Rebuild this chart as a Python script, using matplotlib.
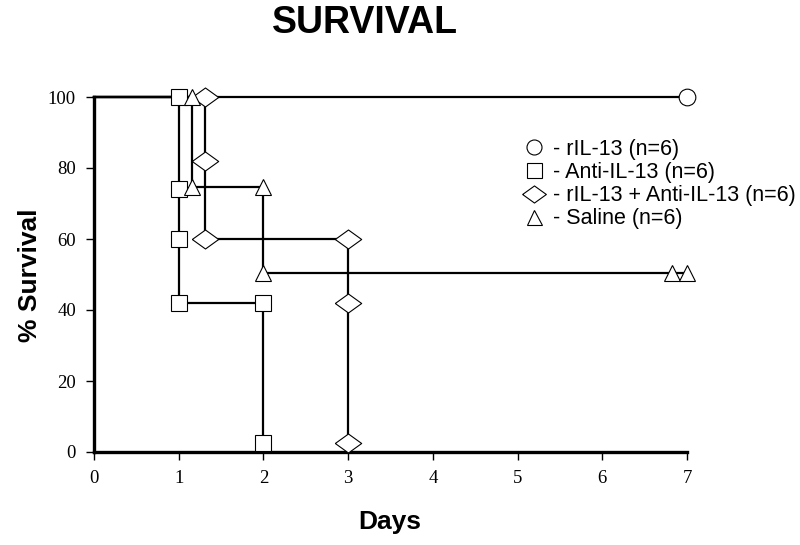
import matplotlib
matplotlib.use("Agg")
import matplotlib.pyplot as plt
from matplotlib.lines import Line2D

# step curves (day, % survival) and the points that carry a marker
ril13_x = [0, 7]
ril13_y = [100, 100]
ril13_mx = [7]
ril13_my = [100]

anti_x = [0, 1.0, 1.0, 2.0, 2.0]
anti_y = [100, 100, 42, 42, 2.5]
anti_mx = [1.0, 1.0, 1.0, 1.0, 2.0, 2.0]
anti_my = [100, 74, 60, 42, 42, 2.5]

combo_x = [0, 1.31, 1.31, 3.0, 3.0]
combo_y = [100, 100, 60, 60, 2.5]
combo_mx = [1.31, 1.31, 1.31, 3.0, 3.0, 3.0]
combo_my = [100, 82, 60, 60, 42, 2.5]

saline_x = [0, 1.16, 1.16, 2.0, 2.0, 7.0]
saline_y = [100, 100, 74.6, 74.6, 50.5, 50.5]
saline_mx = [1.16, 1.16, 2.0, 2.0, 6.82, 7.0]
saline_my = [100, 74.6, 74.6, 50.5, 50.5, 50.5]

labels = ["- rIL-13 (n=6)", "- Anti-IL-13 (n=6)",
          "- rIL-13 + Anti-IL-13 (n=6)", "- Saline (n=6)"]

x_ticks = [0, 1, 2, 3, 4, 5, 6, 7]
y_ticks = [0, 20, 40, 60, 80, 100]

# flat diamond, wider than tall
flat_diamond = [(-1, 0), (0, 0.72), (1, 0), (0, -0.72), (-1, 0)]

series = [
    (ril13_x, ril13_y, ril13_mx, ril13_my, "o", 12),
    (anti_x, anti_y, anti_mx, anti_my, "s", 12),
    (combo_x, combo_y, combo_mx, combo_my, flat_diamond, 19),
    (saline_x, saline_y, saline_mx, saline_my, "^", 12),
]

fig = plt.figure(figsize=(8, 5.45), dpi=100)
ax = fig.add_axes([94 / 800, 1 - 452 / 545, (687 - 94) / 800, (452 - 97) / 545])

handles = []
for x, y, mx, my, mk, ms in series:
    ax.plot(x, y, color="black", lw=1.6, zorder=2, clip_on=False)
    ax.plot(mx, my, ls="none", marker=mk, ms=ms, mfc="white", mec="black",
            mew=0.8, zorder=3, clip_on=False)
    handles.append(Line2D([], [], ls="none", marker=mk, ms=ms * 0.9,
                          mfc="white", mec="black", mew=0.8))

ax.set_xlim(0, 7)
ax.set_ylim(0, 100)
ax.set_xticks(x_ticks)
ax.set_yticks(y_ticks)
ax.tick_params(direction="out", length=6, width=1, labelsize=13.5, pad=7)
for lab in ax.get_xticklabels() + ax.get_yticklabels():
    lab.set_fontfamily("Liberation Serif")

ax.spines["top"].set_visible(False)
ax.spines["right"].set_visible(False)
ax.spines["left"].set_linewidth(2.4)
ax.spines["bottom"].set_linewidth(2.4)

fig.text(390 / 800, 1 - 522 / 545, "Days", ha="center", va="center",
         fontsize=19, fontweight="bold", family="Liberation Sans")
fig.text(30 / 800, 1 - 275 / 545, "% Survival", ha="center", va="center",
         rotation=90, fontsize=19, fontweight="bold", family="Liberation Sans")
fig.text(365 / 800, 1 - 23 / 545, "SURVIVAL", ha="center", va="center",
         fontsize=27, fontweight="bold", family="Liberation Sans")

ax.legend(handles, labels, loc="upper left", frameon=False,
          bbox_to_anchor=(514 / 800, 1 - 128 / 545),
          bbox_transform=fig.transFigure, handlelength=0.9,
          handletextpad=0.4, labelspacing=0.1, borderpad=0,
          prop={"family": "Liberation Sans", "size": 15.5})

fig.savefig("out.png", dpi=100)
